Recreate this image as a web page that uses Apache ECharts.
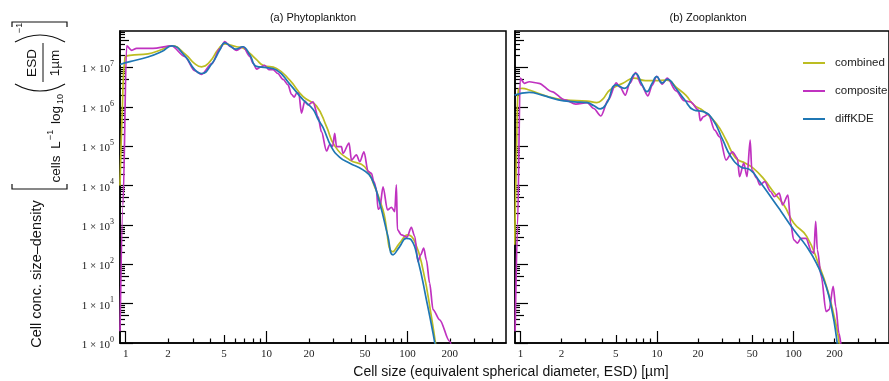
<!DOCTYPE html>
<html><head><meta charset="utf-8">
<script src="https://cdn.jsdelivr.net/npm/echarts@6/dist/echarts.min.js"></script>
<style>html,body{margin:0;padding:0;background:#fff}#c{width:889px;height:381px}</style>
</head><body><div id="c"></div>
<script>
// Tick label values (ESD in µm)
const X_LABELS = [1, 2, 5, 10, 20, 50, 100, 200];
const X_MAJOR = [1, 10, 100];
const X_MID = [5, 50];
const X_MINOR = [2, 3, 4, 6, 7, 8, 9, 20, 30, 40, 60, 70, 80, 90, 200, 300, 400];
const Y_DECADES = [0, 1, 2, 3, 4, 5, 6, 7];
const Y_MINOR_MULT = [2, 3, 4, 6, 7, 8, 9];
const Y_MID_MULT = [5];

const panelTitles = ['(a) Phytoplankton', '(b) Zooplankton'];
const seriesNames = ['combined', 'composite', 'diffKDE'];
const seriesColors = ['#bcbd22', '#c032c0', '#1f77b4'];

// Data points: [log10(ESD / 1 µm), log10(cell conc. size-density)]
const phytoCombined = [[-0.040,4.0],[-0.023,6.0],[-0.005,7.25],[0.030,7.31],[0.158,7.35],[0.243,7.44],[0.328,7.55],[0.421,7.35],[0.49,7.10],[0.539,7.02],[0.598,7.15],[0.655,7.45],[0.704,7.60],[0.787,7.53],[0.832,7.50],[0.882,7.36],[0.929,7.20],[0.976,7.06],[1.071,6.98],[1.165,6.68],[1.260,6.26],[1.355,6.02],[1.426,5.50],[1.484,5.01],[1.591,4.65],[1.697,4.48],[1.768,3.97],[1.827,3.38],[1.898,2.32],[1.945,2.54],[2.004,2.75],[2.052,2.58],[2.111,1.86],[2.170,0.68],[2.211,-0.3]];
const phytoComposite = [[-0.040,0.3],[-0.019,3.5],[0.007,7.55],[0.043,7.44],[0.078,7.49],[0.194,7.49],[0.326,7.55],[0.421,7.28],[0.49,6.92],[0.539,6.83],[0.612,7.10],[0.669,7.48],[0.704,7.66],[0.742,7.54],[0.787,7.44],[0.834,7.53],[0.882,7.28],[0.905,7.11],[0.929,6.96],[0.960,7.02],[0.987,7.06],[1.016,6.95],[1.047,6.95],[1.080,6.85],[1.118,6.70],[1.153,6.56],[1.177,6.32],[1.197,6.25],[1.215,6.36],[1.229,6.35],[1.248,5.84],[1.272,6.15],[1.295,6.05],[1.330,6.13],[1.366,5.75],[1.390,5.37],[1.426,4.88],[1.450,5.05],[1.470,5.00],[1.484,5.33],[1.497,4.99],[1.532,4.99],[1.543,4.82],[1.586,5.08],[1.603,4.65],[1.638,4.78],[1.662,4.61],[1.692,4.86],[1.721,4.36],[1.745,4.31],[1.762,4.10],[1.779,3.93],[1.792,3.40],[1.804,3.43],[1.827,3.97],[1.859,3.38],[1.887,3.45],[1.910,3.34],[1.922,4.02],[1.929,2.88],[1.957,2.75],[1.997,2.69],[2.028,2.94],[2.052,2.71],[2.075,2.07],[2.094,2.24],[2.116,2.41],[2.135,2.11],[2.158,1.52],[2.182,0.85],[2.229,0.59],[2.300,0.04],[2.321,-0.2]];
const phytoDiffKDE = [[-0.040,7.08],[0.030,7.15],[0.158,7.27],[0.257,7.41],[0.328,7.55],[0.42,7.30],[0.49,6.95],[0.539,6.85],[0.612,7.10],[0.669,7.45],[0.704,7.63],[0.742,7.55],[0.782,7.47],[0.830,7.53],[0.882,7.32],[0.929,7.03],[1.000,7.00],[1.071,6.94],[1.165,6.58],[1.260,6.18],[1.330,5.94],[1.367,5.68],[1.401,5.48],[1.461,4.98],[1.520,4.72],[1.591,4.57],[1.685,4.40],[1.745,4.19],[1.804,3.55],[1.862,2.71],[1.898,2.24],[1.945,2.45],[1.993,2.66],[2.028,2.62],[2.075,2.11],[2.135,1.10],[2.182,0.25],[2.208,-0.3]];

const zooCombined = [[-0.043,2.5],[-0.028,5.0],[-0.014,6.45],[0.014,6.47],[0.064,6.43],[0.206,6.26],[0.324,6.18],[0.489,6.15],[0.560,6.11],[0.603,6.20],[0.655,6.43],[0.750,6.60],[0.832,6.73],[0.915,6.67],[0.986,6.67],[1.069,6.68],[1.151,6.47],[1.211,6.30],[1.270,6.05],[1.340,5.90],[1.435,5.58],[1.506,5.16],[1.577,4.70],[1.648,4.57],[1.707,4.44],[1.778,4.19],[1.860,3.81],[1.931,3.50],[2.002,3.05],[2.097,2.71],[2.191,1.94],[2.250,1.35],[2.298,0.68],[2.328,0.17],[2.340,-0.2]];
const zooComposite = [[-0.039,0.3],[-0.021,3.0],[-0.002,6.73],[0.028,6.60],[0.064,6.64],[0.135,6.60],[0.229,6.39],[0.324,6.18],[0.406,6.07],[0.489,6.11],[0.537,5.96],[0.589,5.77],[0.643,6.18],[0.702,6.61],[0.730,6.50],[0.768,6.30],[0.801,6.60],[0.844,6.87],[0.887,6.55],[0.934,6.28],[0.965,6.55],[0.998,6.78],[1.038,6.58],[1.076,6.73],[1.140,6.41],[1.199,6.16],[1.246,6.13],[1.305,5.92],[1.317,5.65],[1.340,5.75],[1.376,5.82],[1.423,5.41],[1.459,5.24],[1.506,4.65],[1.553,4.86],[1.589,4.70],[1.605,4.23],[1.636,4.57],[1.660,4.23],[1.683,5.16],[1.695,4.40],[1.730,4.19],[1.754,4.02],[1.789,4.10],[1.832,3.85],[1.860,3.72],[1.896,3.81],[1.920,3.51],[1.960,3.76],[1.979,3.05],[2.002,2.62],[2.030,2.54],[2.055,2.66],[2.092,2.66],[2.133,2.32],[2.149,2.28],[2.163,3.09],[2.175,2.37],[2.204,1.69],[2.239,0.80],[2.262,0.85],[2.291,1.44],[2.310,0.93],[2.333,0.25],[2.350,-0.1]];
const zooDiffKDE = [[-0.043,6.30],[0.064,6.37],[0.158,6.30],[0.277,6.18],[0.395,6.13],[0.489,6.11],[0.539,6.03],[0.584,5.95],[0.631,6.09],[0.702,6.56],[0.761,6.47],[0.844,6.85],[0.887,6.60],[0.927,6.39],[0.965,6.60],[0.998,6.77],[1.038,6.61],[1.076,6.70],[1.140,6.47],[1.199,6.20],[1.270,5.92],[1.340,5.88],[1.411,5.67],[1.482,5.16],[1.541,4.74],[1.612,4.48],[1.683,4.40],[1.754,4.10],[1.837,3.70],[1.908,3.35],[2.002,2.88],[2.097,2.45],[2.168,2.03],[2.239,1.44],[2.286,0.76],[2.314,0.17],[2.326,-0.2]];

const X_MIN_LOG = -0.04, X_MAX_LOG = 2.70, Y_MIN_LOG = 0, Y_MAX_LOG = 7.93;
const SERIF = 'Liberation Serif', SANS = 'Liberation Sans';

const yMinor = [], yMid = [];
Y_DECADES.forEach(k => {
  Y_MINOR_MULT.forEach(m => yMinor.push(k + Math.log10(m)));
  Y_MID_MULT.forEach(m => yMid.push(k + Math.log10(m)));
});

function tickAxisBase(grid, isX) {
  return {
    type: 'value', gridIndex: grid,
    min: isX ? X_MIN_LOG : Y_MIN_LOG, max: isX ? X_MAX_LOG : Y_MAX_LOG,
    position: isX ? 'bottom' : 'left',
    splitLine: {show: false},
    axisLine: {show: false, onZero: false},
    axisLabel: {show: false}
  };
}
function tick(len, vals) {
  return {show: true, inside: true, length: len, customValues: vals, lineStyle: {color: '#000', width: 1.2}};
}

const xAxes = [], yAxes = [];
[0, 1].forEach(g => {
  xAxes.push(Object.assign(tickAxisBase(g, true), {
    axisLine: {show: true, onZero: false, lineStyle: {color: '#000', width: 1.5}},
    axisTick: tick(12, X_MAJOR.map(v => Math.log10(v))),
    axisLabel: {show: true, customValues: X_LABELS.map(v => Math.log10(v)),
      formatter: v => String(Math.round(Math.pow(10, v))),
      fontFamily: SERIF, fontSize: 11, color: '#222', margin: 6}
  }));
  xAxes.push(Object.assign(tickAxisBase(g, true), {axisTick: tick(8, X_MID.map(v => Math.log10(v)))}));
  xAxes.push(Object.assign(tickAxisBase(g, true), {axisTick: tick(4.5, X_MINOR.map(v => Math.log10(v)))}));

  yAxes.push(Object.assign(tickAxisBase(g, false), {
    axisLine: {show: true, onZero: false, lineStyle: {color: '#000', width: 1.5}},
    axisTick: tick(13, Y_DECADES),
    axisLabel: g === 0 ? {show: true, customValues: Y_DECADES, margin: 6,
      formatter: v => '{a|1 × 10}{b|' + Math.round(v) + '}',
      rich: {
        a: {fontFamily: SERIF, fontSize: 11, color: '#222', verticalAlign: 'bottom', lineHeight: 15},
        b: {fontFamily: SERIF, fontSize: 8, color: '#222', verticalAlign: 'top', lineHeight: 8}
      }} : {show: false}
  }));
  yAxes.push(Object.assign(tickAxisBase(g, false), {axisTick: tick(9, yMid)}));
  yAxes.push(Object.assign(tickAxisBase(g, false), {axisTick: tick(5, yMinor)}));
});

const panelData = [[phytoCombined, phytoComposite, phytoDiffKDE], [zooCombined, zooComposite, zooDiffKDE]];
const series = [];
[0, 1].forEach(g => {
  panelData[g].forEach((d, i) => {
    const s = {
      type: 'line', name: seriesNames[i], data: d,
      xAxisIndex: g * 3, yAxisIndex: g * 3,
      showSymbol: false, smooth: i === 1 ? 0.3 : 0.5,
      lineStyle: {color: seriesColors[i], width: 1.7}, itemStyle: {color: seriesColors[i]},
      clip: true, silent: true, animation: false, z: 2 + i
    };
    if (i === 1) s.smoothMonotone = 'x';
    series.push(s);
  });
});

const T = (text, x, y, size, opts) => Object.assign({
  type: 'text', x, y, silent: true,
  style: {text, fontFamily: SANS, fontSize: size, fill: '#111', textAlign: 'center', textVerticalAlign: 'middle'}
}, opts || {});
const R = Math.PI / 2;
const strokeStyle = {stroke: '#111', lineWidth: 1.2, fill: null};

const graphics = [
  T(panelTitles[0], 313, 18, 11),
  T(panelTitles[1], 708, 18, 11),
  T('Cell size (equivalent spherical diameter, ESD) [µm]', 511, 372, 14),
  T('Cell conc. size–density', 37, 274, 14.5, {rotation: R}),
  {type: 'polyline', silent: true, shape: {points: [[12, 184], [12, 189], [67, 189], [67, 184]]}, style: strokeStyle},
  T('cells', 56.5, 169, 13.5, {rotation: R}),
  T('L', 56.5, 145, 13.5, {rotation: R}),
  T('−1', 50.5, 135, 9, {rotation: R}),
  T('log', 56.5, 115, 13.5, {rotation: R}),
  T('10', 61, 99, 9, {rotation: R}),
  {type: 'bezierCurve', silent: true, shape: {x1: 15, y1: 84, cpx1: 40, cpy1: 98, x2: 65, y2: 84}, style: strokeStyle},
  T('ESD', 32, 63, 13.5, {rotation: R}),
  {type: 'line', silent: true, shape: {x1: 43, y1: 43, x2: 43, y2: 82}, style: {stroke: '#111', lineWidth: 1}},
  T('1µm', 55, 63, 13.5, {rotation: R}),
  {type: 'bezierCurve', silent: true, shape: {x1: 15, y1: 42, cpx1: 40, cpy1: 28, x2: 65, y2: 42}, style: strokeStyle},
  T('−1', 20, 28, 9, {rotation: R}),
  {type: 'polyline', silent: true, shape: {points: [[12, 27], [12, 22], [67, 22], [67, 27]]}, style: strokeStyle}
];

const chart = echarts.init(document.getElementById('c'), null, {renderer: 'canvas'});
chart.setOption({
  animation: false,
  backgroundColor: '#fff',
  grid: [
    {left: 120, top: 31, width: 386, height: 312, show: true, borderColor: '#000', borderWidth: 1.5, backgroundColor: 'transparent'},
    {left: 515, top: 31, width: 386, height: 312, show: true, borderColor: '#000', borderWidth: 1.5, backgroundColor: 'transparent'}
  ],
  xAxis: xAxes,
  yAxis: yAxes,
  legend: {
    left: 798, top: 52, orient: 'vertical', itemWidth: 22, itemHeight: 2, itemGap: 16, icon: 'rect',
    data: seriesNames, selectedMode: false,
    textStyle: {fontFamily: SANS, fontSize: 11.5, color: '#222', padding: [0, 0, 0, 5]}
  },
  series: series,
  graphic: graphics
});
</script></body></html>
